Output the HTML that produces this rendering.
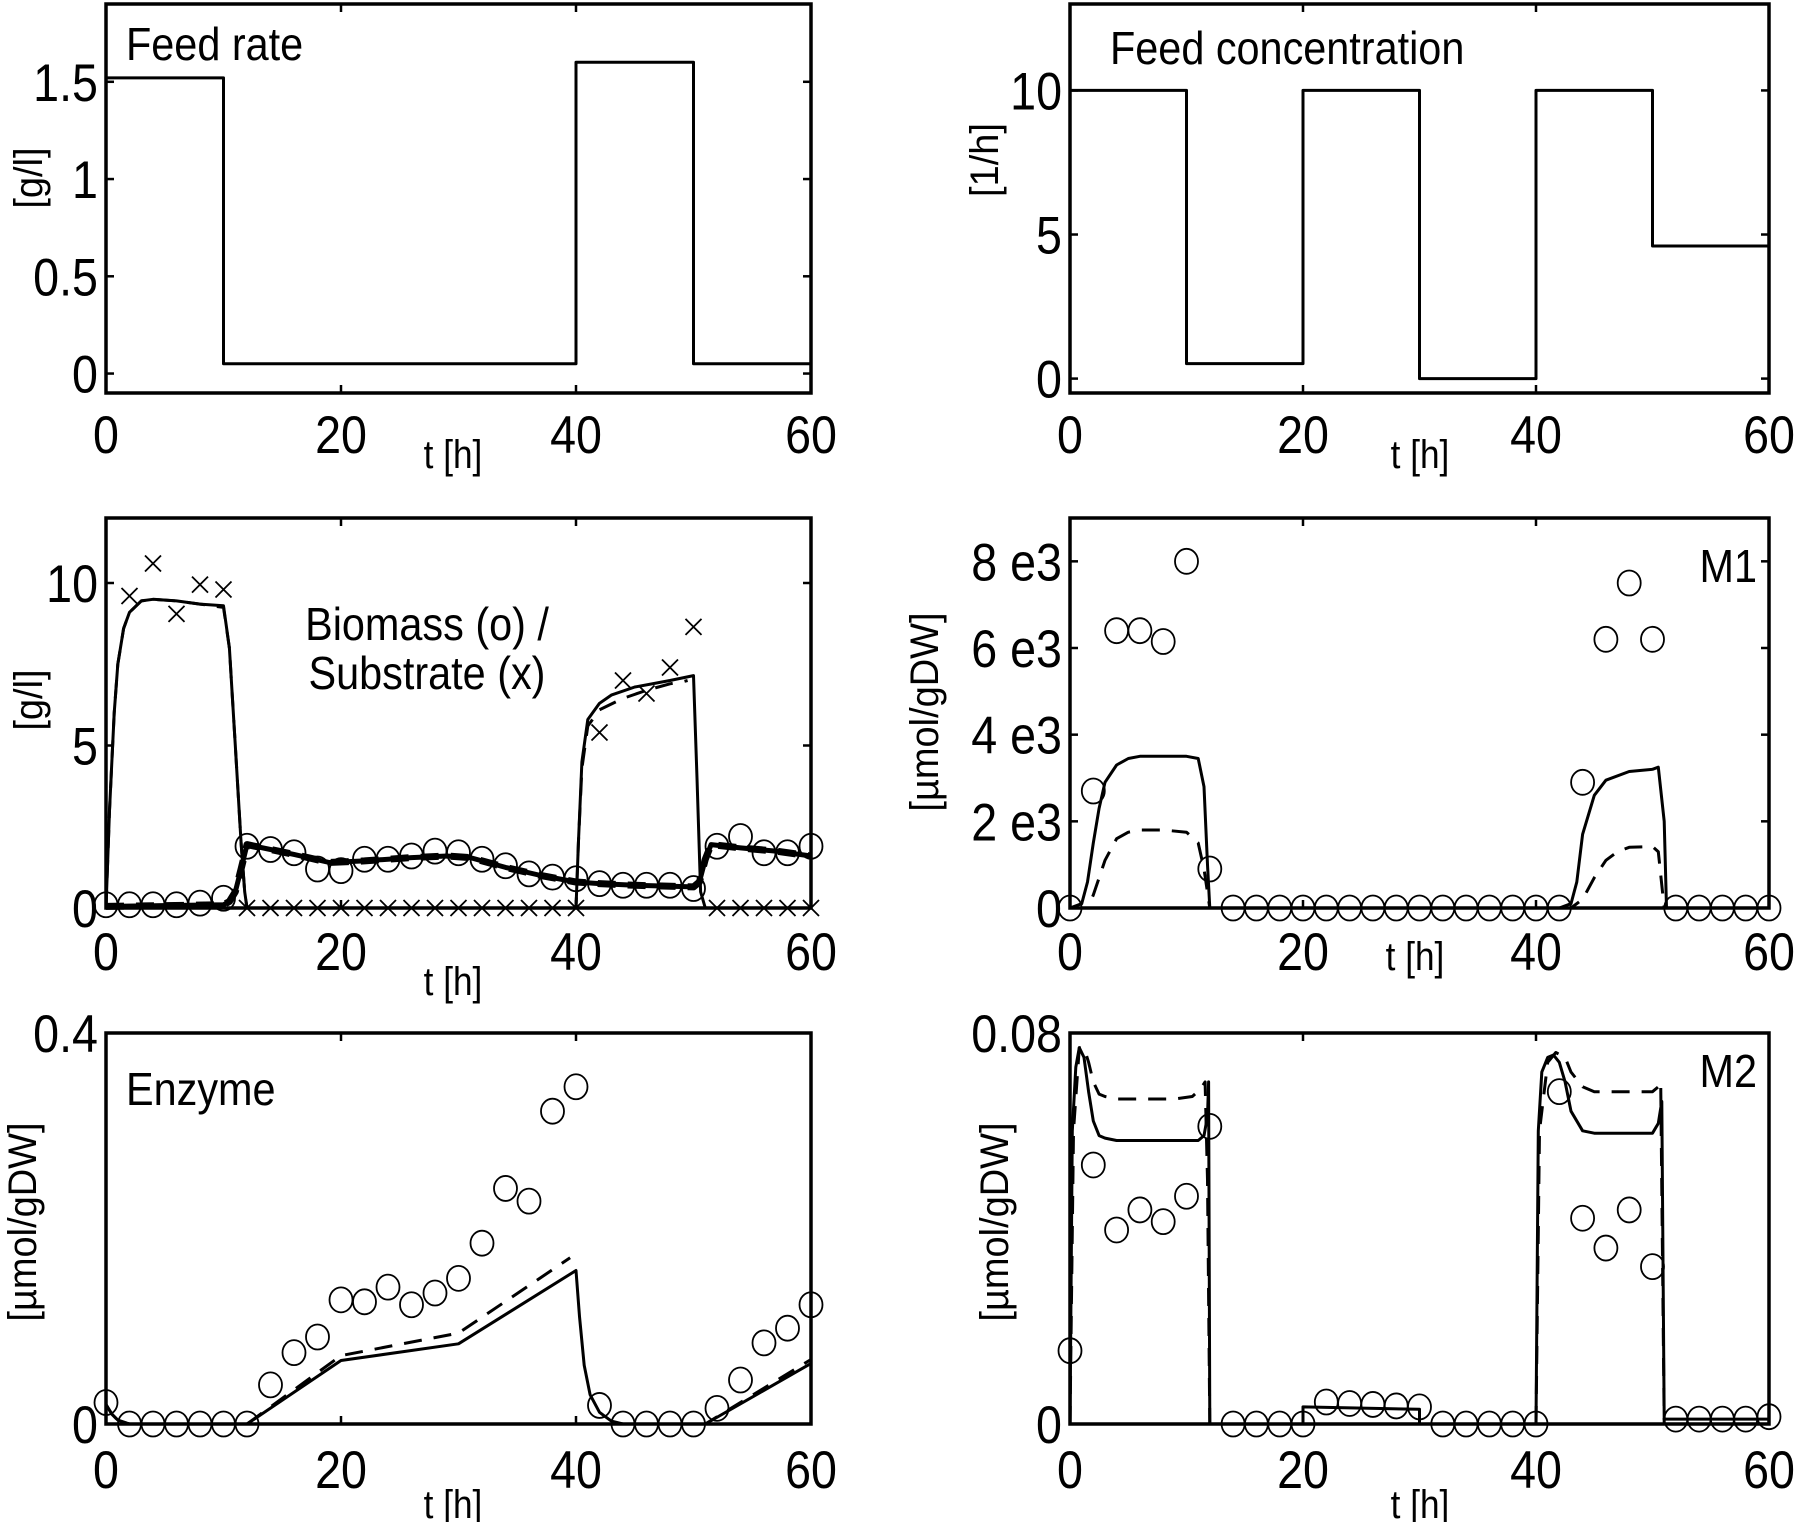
<!DOCTYPE html>
<html><head><meta charset="utf-8"><title>Fed-batch simulation panels</title>
<style>
html,body{margin:0;padding:0;background:#fff;}
svg{display:block;}
text{font-family:"Liberation Sans",Arial,sans-serif;fill:#000;}
</style></head>
<body>
<svg id="fig" xmlns="http://www.w3.org/2000/svg" width="1800" height="1522" viewBox="0 0 1800 1522"></svg>
<script>
// ---------- data ----------
const sampleTimes = [0,2,4,6,8,10,12,14,16,18,20,22,24,26,28,30,32,34,36,38,40,42,44,46,48,50,52,54,56,58,60];

const feedRateT = [0,10,10,40,40,50,50,60];
const feedRateV = [1.52,1.52,0.05,0.05,1.6,1.6,0.05,0.05];

const feedConcT = [0,10,10,20,20,30,30,40,40,50,50,60];
const feedConcV = [10,10,0.52,0.52,10,10,0,0,10,10,4.6,4.6];

const biomassObs = [0.1,0.1,0.1,0.1,0.15,0.3,1.9,1.8,1.7,1.2,1.15,1.5,1.5,1.6,1.75,1.7,1.5,1.3,1.05,0.95,0.9,0.75,0.7,0.7,0.7,0.6,1.9,2.2,1.7,1.7,1.9];
const substrateObsT = [2,4,6,8,10,12,14,16,18,20,22,24,26,28,30,32,34,36,38,40,42,44,46,48,50,52,54,56,58,60];
const substrateObsV = [9.6,10.6,9.05,9.95,9.8,0,0,0,0,0,0,0,0,0,0,0,0,0,0,0,5.4,7.0,6.6,7.4,8.65,0,0,0,0,0];
const substrateSimT = [0,0.3,0.7,1,1.5,2,3,4,6,8,10,10.5,11,11.5,11.8,12,40,40.2,40.5,41,42,43,45,48,50,50.3,50.6,51,60];
const substrateSimV = [0,3,6,7.5,8.6,9.1,9.45,9.5,9.45,9.35,9.3,8,5,2,0.5,0,0,2,4.5,5.8,6.3,6.55,6.8,7.0,7.15,4,0.5,0,0];
const substrateSim2T = [0,0.3,0.7,1,1.5,2,3,4,6,8,10,10.5,11,11.5,11.8,12,40,40.2,40.5,41,42,44,46,48,49,49.5];
const substrateSim2V = [0,3,6,7.5,8.6,9.1,9.45,9.5,9.45,9.35,9.25,8,5,2,0.5,0,0,2,4.3,5.6,6.1,6.45,6.7,6.9,6.95,7.0];
const biomassSimT = [0,10,10.5,11,11.5,12,14,16,19,22,26,29,31,34,37,40,42,45,50,50.5,51,51.5,54,57,60];
const biomassSimV = [0.05,0.1,0.2,0.5,1.2,1.95,1.8,1.65,1.4,1.45,1.55,1.6,1.55,1.25,1.0,0.8,0.75,0.7,0.65,0.8,1.5,1.95,1.85,1.75,1.6];

const m1Obs = [0,2700,6400,6400,6150,8000,900,0,0,0,0,0,0,0,0,0,0,0,0,0,0,0,2900,6200,7500,6200,0,0,0,0,0];
const m1SimT = [0,1,1.5,2,2.5,3,4,5,6,10,11,11.5,11.8,12,42,43,43.5,44,45,46,48,50,50.5,51,51.2,60];
const m1SimV = [0,100,600,1500,2300,2900,3300,3450,3500,3500,3450,2800,1000,0,0,100,600,1700,2600,2950,3150,3200,3250,2000,0,0];
const m1Sim2T = [0,1.5,2,3,4,5,6,8,10,11,11.5,12,43,44,45,46,47,48,50,50.5,51];
const m1Sim2V = [0,0,300,1100,1600,1750,1800,1800,1750,1500,900,0,0,200,700,1100,1300,1400,1420,1300,0];

const enzymeObs = [0.022,0,0,0,0,0,0,0.04,0.073,0.089,0.127,0.125,0.14,0.122,0.134,0.149,0.185,0.241,0.228,0.32,0.345,0.019,0,0,0,0,0.016,0.045,0.083,0.098,0.122];
const enzymeSimT = [0,0.5,1,2,12,20,30,40,40.3,40.7,41.2,42,43,44,51,60];
const enzymeSimV = [0.02,0.01,0.004,0,0,0.065,0.082,0.157,0.11,0.06,0.03,0.012,0.003,0,0,0.062];
const enzymeSim2aT = [0,0.5,1,2,12,20,30,39.5];
const enzymeSim2aV = [0.02,0.01,0.004,0,0,0.07,0.093,0.17];
const enzymeSim2bT = [43,51,60];
const enzymeSim2bV = [0,0,0.066];

const m2Obs = [0.015,0.053,0.0397,0.0438,0.0414,0.0466,0.0609,0,0,0,0,0.0045,0.0042,0.004,0.0037,0.0035,0,0,0,0,0,0.068,0.0421,0.036,0.0438,0.0322,0.001,0.001,0.001,0.001,0.0015];
const m2SimT = [0,0.2,0.5,0.8,1.2,1.6,2,2.5,3,4,5,11,11.5,11.8,11.9,12,20,20,30,30,40,40.2,40.5,41,41.5,42,42.5,43,44,45,50,50.5,50.8,51,51.1,60];
const m2SimV = [0,0.06,0.073,0.077,0.075,0.068,0.062,0.059,0.0585,0.058,0.058,0.058,0.059,0.063,0.07,0,0,0.0035,0.003,0,0,0.06,0.072,0.075,0.0755,0.074,0.07,0.064,0.06,0.0595,0.0595,0.0615,0.066,0.001,0.001,0.001];
const m2Sim2aT = [0,0.3,0.8,1.2,1.6,2,2.5,3,4,6,9,10.5,11.2,11.6,11.8,12];
const m2Sim2aV = [0,0.06,0.077,0.077,0.074,0.07,0.0675,0.067,0.0665,0.0665,0.0665,0.067,0.0685,0.07,0.05,0];
const m2Sim2bT = [40,40.3,41,41.7,42.5,43,44,45,47,49,50,50.5,50.7,51];
const m2Sim2bV = [0,0.06,0.074,0.076,0.075,0.072,0.069,0.068,0.068,0.068,0.068,0.069,0.07,0];

const xTicks = [0,20,40,60];
const xTickLabels = ["0","20","40","60"];

// ---------- drawing ----------
const NS = "http://www.w3.org/2000/svg";
const fig = document.getElementById('fig');
function mk(tag, attrs, parent){
  const e = document.createElementNS(NS, tag);
  for (const k in attrs) e.setAttribute(k, attrs[k]);
  (parent||fig).appendChild(e);
  return e;
}
function txt(s, x, y, size, anchor, parent, sx){
  const g = mk('g', {transform:'translate('+x+','+y+') scale('+(sx||0.88)+',1)'}, parent);
  const t = mk('text', {x:0, y:0, 'font-size':size, 'text-anchor':anchor||'start'}, g);
  t.textContent = s;
  return g;
}
function panel(cfg){
  const g = mk('g', {});
  
  
  const X = t => cfg.x0 + (t - 0) / 60 * (cfg.x1 - cfg.x0);
  const Y = v => cfg.y1 - (v - cfg.ymin) / (cfg.ymax - cfg.ymin) * (cfg.y1 - cfg.y0);
  cfg.X = X; cfg.Y = Y; cfg.g = g;
  const box = mk('rect', {x:cfg.x0, y:cfg.y0, width:cfg.x1-cfg.x0, height:cfg.y1-cfg.y0, fill:'none', stroke:'#000', 'stroke-width':3.5}, g);
  
  
  xTicks.forEach((t,i)=>{
    const x = X(t);
    mk('line',{x1:x,x2:x,y1:cfg.y1,y2:cfg.y1-8,stroke:'#000','stroke-width':2.5},g);
    mk('line',{x1:x,x2:x,y1:cfg.y0,y2:cfg.y0+8,stroke:'#000','stroke-width':2.5},g);
    const l = txt(xTickLabels[i], x, cfg.xlabY, 53, 'middle', g);
    
    
  });
  cfg.yTicks.forEach((v,i)=>{
    const y = Y(v);
    mk('line',{x1:cfg.x0,x2:cfg.x0+8,y1:y,y2:y,stroke:'#000','stroke-width':2.5},g);
    mk('line',{x1:cfg.x1,x2:cfg.x1-8,y1:y,y2:y,stroke:'#000','stroke-width':2.5},g);
    const l = txt(cfg.yTickLabels[i], cfg.x0-8, y+19, 53, 'end', g);
    
    
  });
  const xl = txt('t [h]', cfg.tx, cfg.ty, 40, 'middle', g);
  
  
  const yg = mk('g', {transform:'translate('+cfg.yx+','+cfg.yy+') rotate(-90)'}, g);
  const yl = txt(cfg.ylabel, 0, 0, 40, 'middle', yg, 0.95);
  
  
  return cfg;
}
function line(p, ts, vs, name, dashed, width){
  const d = ts.map((t,i)=>(i?'L':'M')+p.X(t).toFixed(1)+','+p.Y(vs[i]).toFixed(1)).join(' ');
  const a = {d:d, fill:'none', stroke:'#000', 'stroke-width':width||3, 'stroke-linejoin':'round'};
  if (dashed) a['stroke-dasharray'] = '18,12';
  const e = mk('path', a, p.g);
  
  
}
function circles(p, ts, vs, name){
  ts.forEach((t,i)=>{
    const c = mk('ellipse', {cx:p.X(t), cy:p.Y(vs[i]), rx:11.5, ry:12.5, fill:'none', stroke:'#000', 'stroke-width':1.8}, p.g);
    
    
  });
}
function crosses(p, ts, vs, name){
  ts.forEach((t,i)=>{
    const x = p.X(t), y = p.Y(vs[i]), s = 8;
    const c = mk('path', {d:'M'+(x-s)+','+(y-s)+' L'+(x+s)+','+(y+s)+' M'+(x-s)+','+(y+s)+' L'+(x+s)+','+(y-s), stroke:'#000', 'stroke-width':1.8, fill:'none'}, p.g);
    
    
  });
}
function label(p, s, x, y, anchor, name){
  const l = txt(s, x, y, 46, anchor, p.g, 0.9);
  
  
}

// Panel 1: feed rate
const p1 = panel({name:'feed-rate-panel', x0:106,x1:811,y0:4,y1:393,ymin:-0.1,ymax:1.9,
  yTicks:[0,0.5,1,1.5], yTickLabels:['0','0.5','1','1.5'], xlabY:453, tx:453, ty:468, ylabel:'[g/l]', yx:42, yy:178});
line(p1, feedRateT, feedRateV, 'feed-rate-line');
label(p1, 'Feed rate', 126, 60, 'start', 'panel-title');

// Panel 2: feed concentration
const p2 = panel({name:'feed-concentration-panel', x0:1070,x1:1769,y0:4,y1:393,ymin:-0.5,ymax:13,
  yTicks:[0,5,10], yTickLabels:['0','5','10'], xlabY:453, tx:1420, ty:468, ylabel:'[1/h]', yx:998, yy:160});
line(p2, feedConcT, feedConcV, 'feed-concentration-line');
label(p2, 'Feed concentration', 1110, 64, 'start', 'panel-title');

// Panel 3: biomass / substrate
const p3 = panel({name:'biomass-substrate-panel', x0:106,x1:811,y0:518,y1:908,ymin:0,ymax:12,
  yTicks:[0,5,10], yTickLabels:['0','5','10'], xlabY:970, tx:453, ty:995, ylabel:'[g/l]', yx:42, yy:700});
line(p3, substrateSimT, substrateSimV, 'substrate-model-solid', false, 3);
line(p3, substrateSim2T, substrateSim2V, 'substrate-model-dashed', true, 3);
line(p3, biomassSimT, biomassSimV, 'biomass-model-solid', false, 5);
line(p3, biomassSimT, biomassSimV, 'biomass-model-dashed', true, 7);
circles(p3, sampleTimes, biomassObs, 'biomass-point');
crosses(p3, substrateObsT, substrateObsV, 'substrate-point');
label(p3, 'Biomass (o) /', 427, 640, 'middle', 'panel-title');
label(p3, 'Substrate (x)', 427, 689, 'middle', 'panel-title-line2');

// Panel 4: M1
const p4 = panel({name:'m1-panel', x0:1070,x1:1769,y0:518,y1:908,ymin:0,ymax:9000,
  yTicks:[0,2000,4000,6000,8000], yTickLabels:['0','2 e3','4 e3','6 e3','8 e3'], xlabY:970, tx:1415, ty:970, ylabel:'[\u00b5mol/gDW]', yx:938, yy:712});
line(p4, m1SimT, m1SimV, 'm1-model-solid');
line(p4, m1Sim2T, m1Sim2V, 'm1-model-dashed', true);
circles(p4, sampleTimes, m1Obs, 'm1-point');
label(p4, 'M1', 1757, 582, 'end', 'panel-title');

// Panel 5: enzyme
const p5 = panel({name:'enzyme-panel', x0:106,x1:811,y0:1033,y1:1424,ymin:0,ymax:0.4,
  yTicks:[0,0.4], yTickLabels:['0','0.4'], xlabY:1488, tx:453, ty:1518, ylabel:'[\u00b5mol/gDW]', yx:36, yy:1222});
line(p5, enzymeSimT, enzymeSimV, 'enzyme-model-solid');
line(p5, enzymeSim2aT, enzymeSim2aV, 'enzyme-model-dashed', true);
line(p5, enzymeSim2bT, enzymeSim2bV, 'enzyme-model-dashed-2', true);
circles(p5, sampleTimes, enzymeObs, 'enzyme-point');
label(p5, 'Enzyme', 126, 1105, 'start', 'panel-title');

// Panel 6: M2
const p6 = panel({name:'m2-panel', x0:1070,x1:1769,y0:1033,y1:1424,ymin:0,ymax:0.08,
  yTicks:[0,0.08], yTickLabels:['0','0.08'], xlabY:1488, tx:1420, ty:1518, ylabel:'[\u00b5mol/gDW]', yx:1008, yy:1222});
line(p6, m2SimT, m2SimV, 'm2-model-solid');
line(p6, m2Sim2aT, m2Sim2aV, 'm2-model-dashed', true);
line(p6, m2Sim2bT, m2Sim2bV, 'm2-model-dashed-2', true);
circles(p6, sampleTimes, m2Obs, 'm2-point');
label(p6, 'M2', 1757, 1087, 'end', 'panel-title');
</script>
</body></html>
